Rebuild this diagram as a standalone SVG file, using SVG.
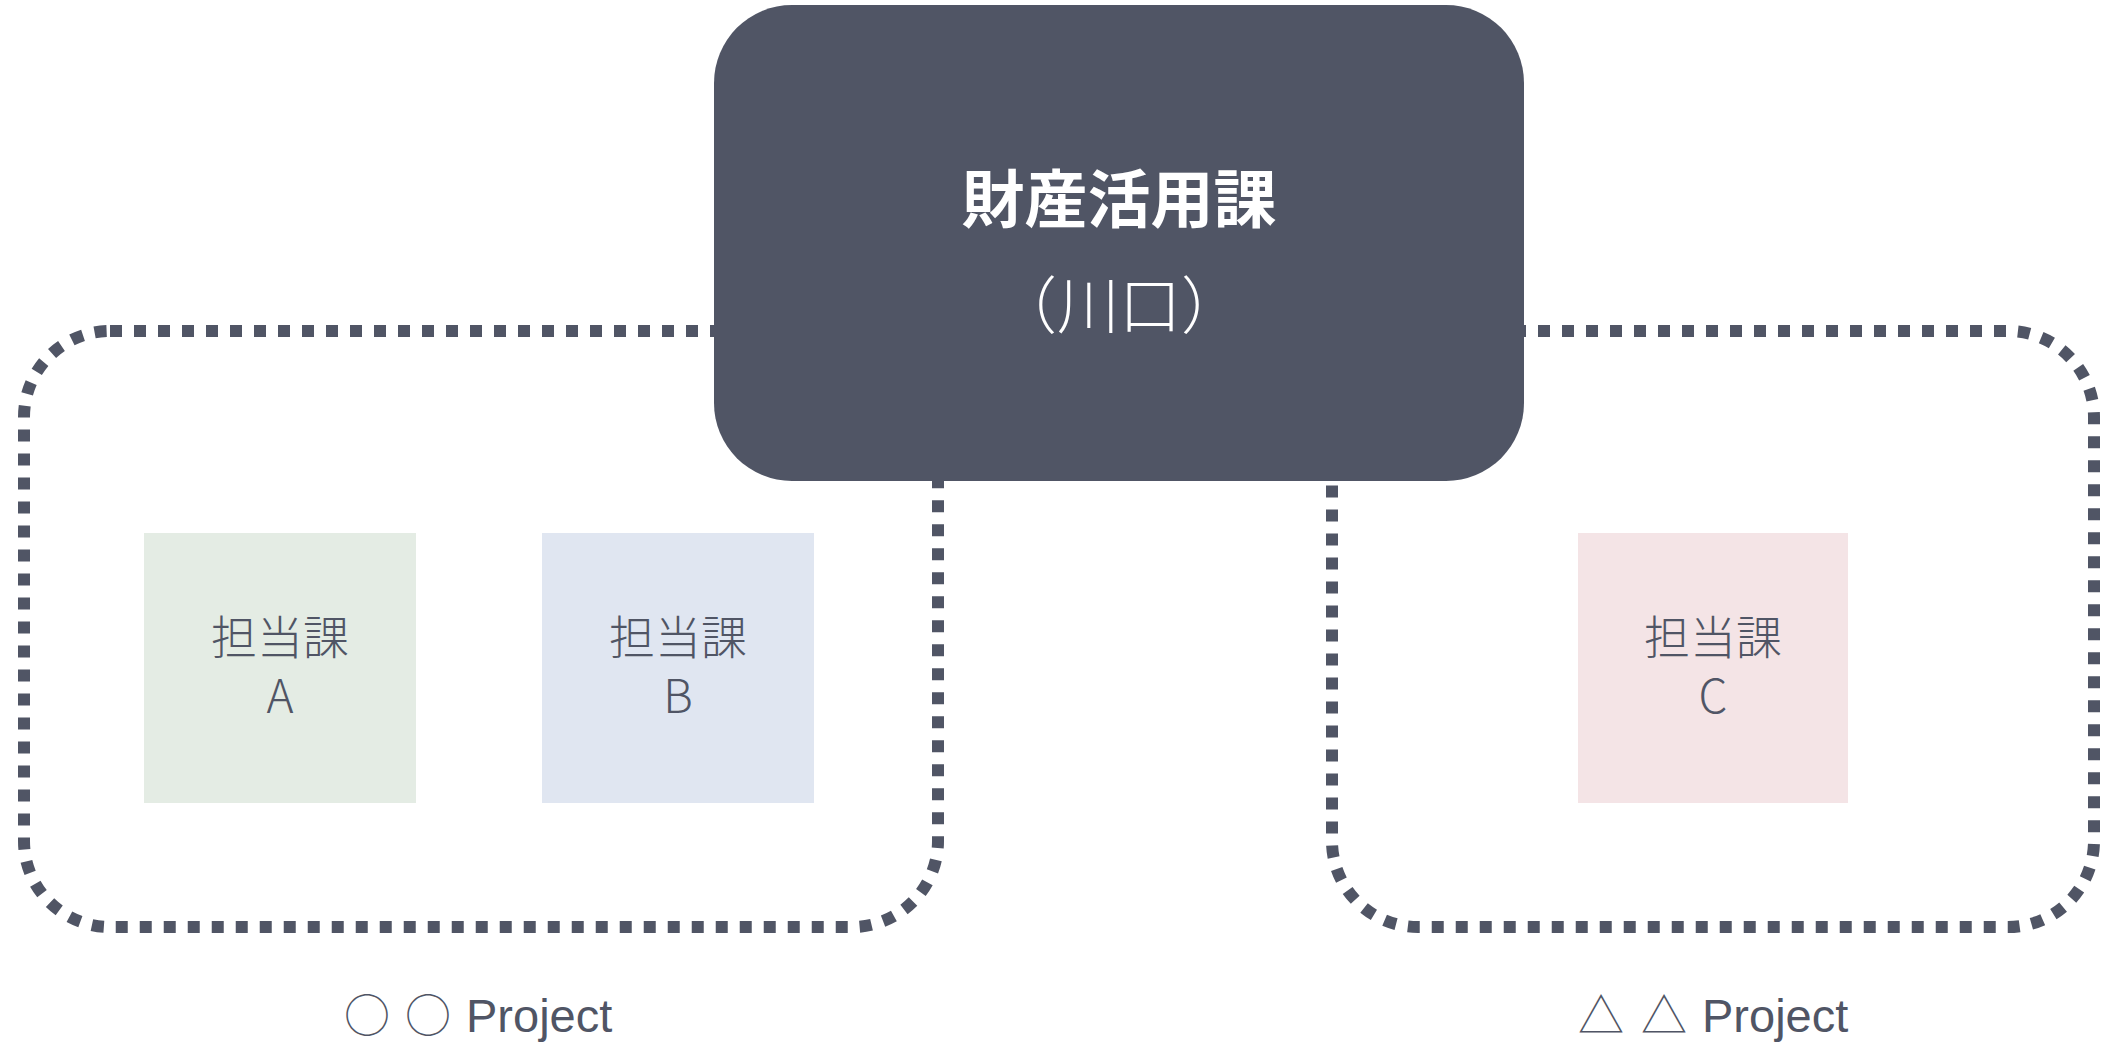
<svg xmlns="http://www.w3.org/2000/svg" width="2103" height="1042" viewBox="0 0 2103 1042">
<style>
.grp{fill:none;stroke:#505565;stroke-width:12;stroke-dasharray:12 12}
.sub{font-family:"Noto Sans CJK JP","Noto Sans",sans-serif;font-weight:300;font-size:46px;fill:#505565;text-anchor:middle}
.proj{font-family:"Liberation Sans","Noto Sans CJK JP",sans-serif;font-size:47px;fill:#505565}
.sym{font-family:"Noto Sans CJK JP",sans-serif;font-weight:300;font-size:46px}
</style>
<rect width="2103" height="1042" fill="#ffffff"/>
<g id="connectors">
<rect id="group-left" class="grp" x="24" y="331" width="914" height="596" rx="86" ry="86"/>
<rect id="group-right" class="grp" x="1332" y="331" width="762" height="596" rx="86" ry="86"/>
</g>
<g id="main">
<rect x="714" y="5" width="810" height="476" rx="78" ry="78" fill="#505565"/>
<text x="1119" y="222" font-family="Noto Sans CJK JP,sans-serif" font-weight="700" font-size="63" fill="#ffffff" text-anchor="middle">財産活用課</text>
<text x="1119" y="329" font-family="Noto Sans CJK JP,sans-serif" font-weight="300" font-size="62" fill="#ffffff" text-anchor="middle">（川口）</text>
</g>
<g id="nodeA">
<rect x="144" y="533" width="272" height="270" fill="#e4ece4"/>
<text class="sub" x="280" y="654">担当課</text>
<text class="sub" x="280" y="713">A</text>
</g>
<g id="nodeB">
<rect x="542" y="533" width="272" height="270" fill="#e0e6f1"/>
<text class="sub" x="678" y="654">担当課</text>
<text class="sub" x="678" y="713">B</text>
</g>
<g id="nodeC">
<rect x="1578" y="533" width="270" height="270" fill="#f4e4e6"/>
<text class="sub" x="1713" y="654">担当課</text>
<text class="sub" x="1713" y="713">C</text>
</g>
<g id="label-left"><text class="proj" y="1032"><tspan class="sym" x="344">○</tspan><tspan class="sym" x="405">○</tspan><tspan x="466">Project</tspan></text></g>
<g id="label-right"><text class="proj" y="1032"><tspan class="sym" x="1578">△</tspan><tspan class="sym" x="1641">△</tspan><tspan x="1702">Project</tspan></text></g>
</svg>
